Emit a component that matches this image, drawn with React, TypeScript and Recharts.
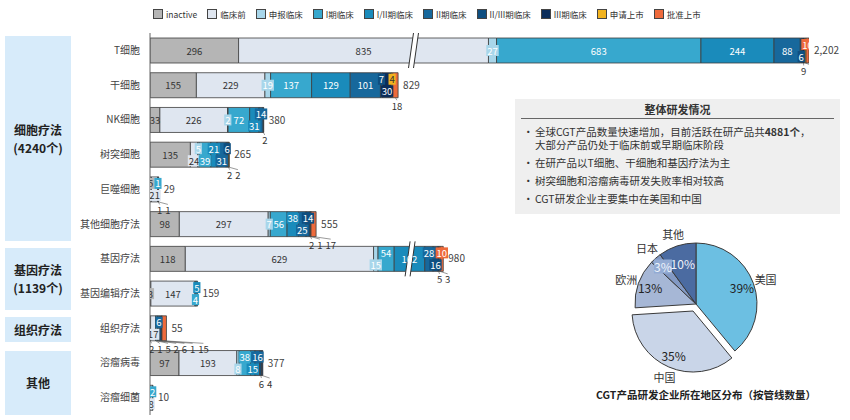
import React from "react";
import { BarChart, Bar, XAxis, YAxis, LabelList, PieChart, Pie, Cell } from "recharts";

const FONT = "'Noto Sans CJK SC', 'Noto Sans', sans-serif";

const CATEGORIES = [
  "T细胞",
  "干细胞",
  "NK细胞",
  "树突细胞",
  "巨噬细胞",
  "其他细胞疗法",
  "基因疗法",
  "基因编辑疗法",
  "组织疗法",
  "溶瘤病毒",
  "溶瘤细菌",
];

const inactive = [296, 155, 33, 135, 5, 98, 118, 3, 2, 97, 0];
const preclinical = [835, 229, 226, 24, 21, 297, 629, 147, 17, 193, 8];
const filing = [27, 19, 2, 5, 0, 7, 15, 0, 1, 8, 0];
const phase1 = [683, 137, 72, 39, 1, 56, 54, 4, 5, 38, 2];
const phase12 = [244, 129, 31, 21, 1, 38, 102, 5, 2, 15, 0];
const phase2 = [88, 101, 14, 31, 1, 25, 28, 0, 6, 16, 0];
const phase23 = [6, 7, 0, 6, 0, 14, 16, 0, 6, 6, 0];
const phase3 = [9, 30, 2, 2, 0, 2, 5, 0, 1, 4, 0];
const applied = [4, 4, 0, 2, 0, 1, 3, 0, 0, 0, 0];
const approved = [10, 18, 0, 0, 0, 17, 10, 0, 15, 0, 0];

const REGIONS = ["美国", "中国", "欧洲", "日本", "其他"];
const REGION_SHARE = [39, 35, 13, 3, 10];

const SERIES = [
  { key: "inactive", name: "inactive", color: "#b5b5b5", text: "#333", values: inactive },
  { key: "preclinical", name: "临床前", color: "#dfe6f0", text: "#333", values: preclinical },
  { key: "filing", name: "申报临床", color: "#a8d6ea", text: "#fff", values: filing },
  { key: "p1", name: "I期临床", color: "#37a8ce", text: "#fff", values: phase1 },
  { key: "p12", name: "I/II期临床", color: "#1a8bbb", text: "#fff", values: phase12 },
  { key: "p2", name: "II期临床", color: "#17689c", text: "#fff", values: phase2 },
  { key: "p23", name: "II/III期临床", color: "#0f4f80", text: "#fff", values: phase23 },
  { key: "p3", name: "III期临床", color: "#0b2d5a", text: "#fff", values: phase3 },
  { key: "apply", name: "申请上市", color: "#f2b31f", text: "#333", values: applied },
  { key: "approved", name: "批准上市", color: "#ee6a3b", text: "#fff", values: approved },
];

// label placement per row, one char per series:
// c = centred, t/b/m = small badge top/bottom/middle, u = under the bar, - = none
const LABEL_MODES = [
  "ccmcccbuut",
  "ccmccctbtu",
  "ccmcbt-u--",
  "cbtbtbtuu-",
  "tb-tuu----",
  "ccmctbtuuu",
  "ccbtctbuut",
  "mc-bt-----",
  "ubuuutuu-u",
  "ccbtbtuu--",
  "-b-t------",
];

// axis-break marks (row, series, fraction along segment)
const BREAKS = [
  { row: 0, series: 1, at: 0.7 },
  { row: 6, series: 4, at: 0.52 },
];

const REGION_COLORS = ["#6cbfe2", "#c9d5e8", "#a6b7d6", "#8299c4", "#4b6ba1"];

const rows = CATEGORIES.map((name, i) => {
  const r: any = { name };
  let t = 0;
  SERIES.forEach((s) => {
    r[s.key] = s.values[i];
    t += s.values[i];
  });
  r.total = t;
  return r;
});

const pieData = REGIONS.map((name, i) => ({ name, value: REGION_SHARE[i] }));

const CHAR_W = 5.2;
const LABEL_FS = 9.5;

function segmentLabel(si: number) {
  return (p: any) => {
    const { x, y, width, height, payload } = p;
    const s = SERIES[si];
    const ri = CATEGORIES.indexOf(payload?.name);
    const v = payload?.[s.key];
    if (ri < 0 || !v) return <g />;
    const mode = LABEL_MODES[ri][si];
    const label = String(v);
    const tw = label.length * CHAR_W;
    const mid = x + width / 2;
    const parts: any[] = [];

    BREAKS.filter((b) => b.row === ri && b.series === si).forEach((b, n) => {
      const bx = x + width * b.at;
      const y1 = y - 5;
      const y2 = y + height + 5;
      parts.push(
        <g key={"br" + n}>
          <polygon
            points={`${bx - 5},${y2} ${bx},${y2} ${bx + 5},${y1} ${bx},${y1}`}
            fill="#fff"
          />
          <line x1={bx - 5} y1={y2} x2={bx} y2={y1} stroke="#333" strokeWidth={1} />
          <line x1={bx} y1={y2} x2={bx + 5} y2={y1} stroke="#333" strokeWidth={1} />
        </g>
      );
    });

    if (mode === "c") {
      parts.push(
        <text key="t" x={mid} y={y + height / 2} textAnchor="middle" dominantBaseline="central" fontSize={LABEL_FS} fill={s.text}>
          {label}
        </text>
      );
    } else if (mode === "t" || mode === "b" || mode === "m") {
      const cy = mode === "t" ? y + 6.5 : mode === "b" ? y + height - 6.5 : y + height / 2;
      parts.push(
        <g key="t">
          <rect x={mid - tw / 2 - 1} y={cy - 5.5} width={tw + 2} height={11} fill={s.color} />
          <text x={mid} y={cy} textAnchor="middle" dominantBaseline="central" fontSize={LABEL_FS} fill={s.text}>
            {label}
          </text>
        </g>
      );
    } else if (mode === "u") {
      const modes = LABEL_MODES[ri];
      const under = SERIES.map((_, j) => j).filter((j) => modes[j] === "u" && SERIES[j].values[ri] > 0);
      const rank = under.indexOf(si);
      const k = width / v;
      let between = 0;
      for (let j = under[0]; j < si; j++) between += SERIES[j].values[ri];
      const x0 = x - k * between;
      let off = 0;
      for (let q = 0; q < rank; q++) off += String(SERIES[under[q]].values[ri]).length * CHAR_W + 3;
      const lx = x0 + off - 1;
      parts.push(
        <g key="t">
          <line x1={mid} y1={y + height} x2={lx + tw / 2} y2={y + height + 2.5} stroke="#555" strokeWidth={0.6} />
          <text x={lx} y={y + height + 8} textAnchor="start" dominantBaseline="central" fontSize={LABEL_FS} fill="#333">
            {label}
          </text>
        </g>
      );
    }
    return <g>{parts}</g>;
  };
}

const CHART_MARGIN = { top: 33, right: 41, bottom: 5, left: 0 };

function Bars() {
  return (
    <BarChart width={850} height={420} data={rows} layout="vertical" margin={CHART_MARGIN} barSize={25}>
      <XAxis type="number" domain={[0, 2202]} allowDataOverflow hide />
      <YAxis
        type="category"
        dataKey="name"
        width={150}
        interval={0}
        tickLine={false}
        tickSize={0}
        tickMargin={10}
        axisLine={{ stroke: "#666" }}
        tick={{ fill: "#444", fontSize: 10 }}
      />
      {SERIES.map((s) => (
        <Bar
          key={s.key}
          dataKey={s.key}
          stackId="a"
          fill={s.color}
          stroke="#3d3d3d"
          strokeWidth={0.8}
          isAnimationActive={false}
        />
      ))}
    </BarChart>
  );
}

function BarLabels() {
  return (
    <BarChart width={850} height={420} data={rows} layout="vertical" margin={CHART_MARGIN} barSize={25}>
      <XAxis type="number" domain={[0, 2202]} allowDataOverflow hide />
      <YAxis type="category" dataKey="name" width={150} tick={false} axisLine={false} tickLine={false} />
      {SERIES.map((s, si) => (
        <Bar
          key={s.key}
          dataKey={s.key}
          stackId="a"
          fill="transparent"
          isAnimationActive={false}
          shape={segmentLabel(si)}
        >
          {si === SERIES.length - 1 && (
            <LabelList
              dataKey="total"
              position="right"
              offset={5}
              fontSize={10}
              fill="#444"
              formatter={(v: any) => Number(v).toLocaleString("en-US")}
            />
          )}
        </Bar>
      ))}
    </BarChart>
  );
}

const RAD = Math.PI / 180;

function pieLabel(only: number | null) {
  return (p: any) => {
    const { cx, cy, midAngle, outerRadius, index } = p;
    if (only === null ? index === 1 : index !== only) return null;
    const inR = index === 4 ? outerRadius * 0.7 : index === 3 ? outerRadius * 0.82 : outerRadius * 0.8;
    const outR = outerRadius + (index === 1 ? 11 : 13);
    const cos = Math.cos(-midAngle * RAD);
    const sin = Math.sin(-midAngle * RAD);
    const light = index >= 3;
    const px = cx + inR * cos;
    const py = cy + inR * sin;
    return (
      <g>
        {index === 3 && <rect x={px - 9} y={py - 7} width={18} height={14} fill="#93abd3" />}
        <text x={px} y={py} textAnchor="middle" dominantBaseline="central" fontSize={12} fill={light ? "#eef3fa" : "#222"}>
          {REGION_SHARE[index] + "%"}
        </text>
        <text x={cx + outR * cos} y={cy + outR * sin} textAnchor="middle" dominantBaseline="central" fontSize={11} fill="#333">
          {REGIONS[index]}
        </text>
      </g>
    );
  };
}

function RegionPie() {
  return (
    <PieChart width={290} height={200}>
      <Pie
        data={pieData}
        dataKey="value"
        cx={131}
        cy={79}
        outerRadius={61}
        startAngle={90}
        endAngle={-270}
        stroke="#3a3a3a"
        strokeWidth={1}
        isAnimationActive={false}
        labelLine={false}
        label={pieLabel(null)}
      >
        {pieData.map((d, i) => (
          <Cell key={d.name} fill={i === 1 ? "none" : REGION_COLORS[i]} stroke={i === 1 ? "none" : "#3a3a3a"} />
        ))}
      </Pie>
      <Pie
        data={pieData}
        dataKey="value"
        cx={128}
        cy={86}
        outerRadius={61}
        startAngle={90}
        endAngle={-270}
        isAnimationActive={false}
        labelLine={false}
        label={pieLabel(1)}
      >
        {pieData.map((d, i) => (
          <Cell key={d.name} fill={i === 1 ? REGION_COLORS[i] : "none"} stroke={i === 1 ? "#3a3a3a" : "none"} />
        ))}
      </Pie>
    </PieChart>
  );
}

const GROUPS = [
  { title: "细胞疗法", sub: "(4240个)", top: 36, height: 205 },
  { title: "基因疗法", sub: "(1139个)", top: 248, height: 62 },
  { title: "组织疗法", sub: "", top: 317, height: 25 },
  { title: "其他", sub: "", top: 351, height: 64 },
];

const BULLETS = [
  <>
    全球CGT产品数量快速增加，目前活跃在研产品共<b>4881个</b>，
    <br />
    大部分产品仍处于临床前或早期临床阶段
  </>,
  <>在研产品以T细胞、干细胞和基因疗法为主</>,
  <>树突细胞和溶瘤病毒研发失败率相对较高</>,
  <>CGT研发企业主要集中在美国和中国</>,
];

export default function App() {
  return (
    <div
      style={{
        position: "absolute",
        left: 0,
        top: 0,
        width: 850,
        height: 420,
        background: "#fff",
        overflow: "hidden",
        fontFamily: FONT,
        color: "#333",
      }}
    >
      {/* legend */}
      <div style={{ position: "absolute", left: 153, top: 8, display: "flex", gap: 10, fontSize: 8.5, lineHeight: "12px" }}>
        {SERIES.map((s) => (
          <span key={s.key} style={{ display: "flex", alignItems: "center", gap: 3 }}>
            <span style={{ width: 8, height: 8, background: s.color, border: "1px solid #444", display: "inline-block" }} />
            {s.name}
          </span>
        ))}
      </div>

      {/* group boxes */}
      {GROUPS.map((g) => (
        <div
          key={g.title}
          style={{
            position: "absolute",
            left: 5,
            top: g.top,
            width: 66,
            height: g.height,
            background: "#d7ebfa",
            display: "flex",
            flexDirection: "column",
            alignItems: "center",
            justifyContent: "center",
            fontWeight: 700,
            fontSize: 12,
            lineHeight: "18px",
            color: "#222",
          }}
        >
          <div>{g.title}</div>
          {g.sub && <div>{g.sub}</div>}
        </div>
      ))}

      <div style={{ position: "absolute", left: 0, top: 0 }}>
        <Bars />
      </div>
      <div style={{ position: "absolute", left: 0, top: 0 }}>
        <BarLabels />
      </div>

      {/* summary box */}
      <div
        style={{
          position: "absolute",
          left: 515,
          top: 99,
          width: 325,
          height: 115,
          background: "#efefef",
          fontSize: 10.5,
          color: "#333",
        }}
      >
        <div
          style={{
            margin: "3px 6px 0 6px",
            textAlign: "center",
            fontWeight: 700,
            fontSize: 11,
            lineHeight: "15px",
            borderBottom: "1.5px solid #666",
            paddingBottom: 1,
          }}
        >
          整体研发情况
        </div>
        <div style={{ padding: "7px 6px 0 8px" }}>
          {BULLETS.map((b, i) => (
            <div key={i} style={{ display: "flex", lineHeight: "12.5px", marginBottom: 5.5 }}>
              <span style={{ width: 12, flex: "none" }}>•</span>
              <span>{b}</span>
            </div>
          ))}
        </div>
      </div>

      {/* pie */}
      <div style={{ position: "absolute", left: 560, top: 220 }}>
        <RegionPie />
      </div>
      <div
        style={{
          position: "absolute",
          left: 560,
          top: 387,
          width: 292,
          textAlign: "center",
          fontWeight: 700,
          fontSize: 10.5,
          color: "#222",
        }}
      >
        CGT产品研发企业所在地区分布（按管线数量）
      </div>
    </div>
  );
}
